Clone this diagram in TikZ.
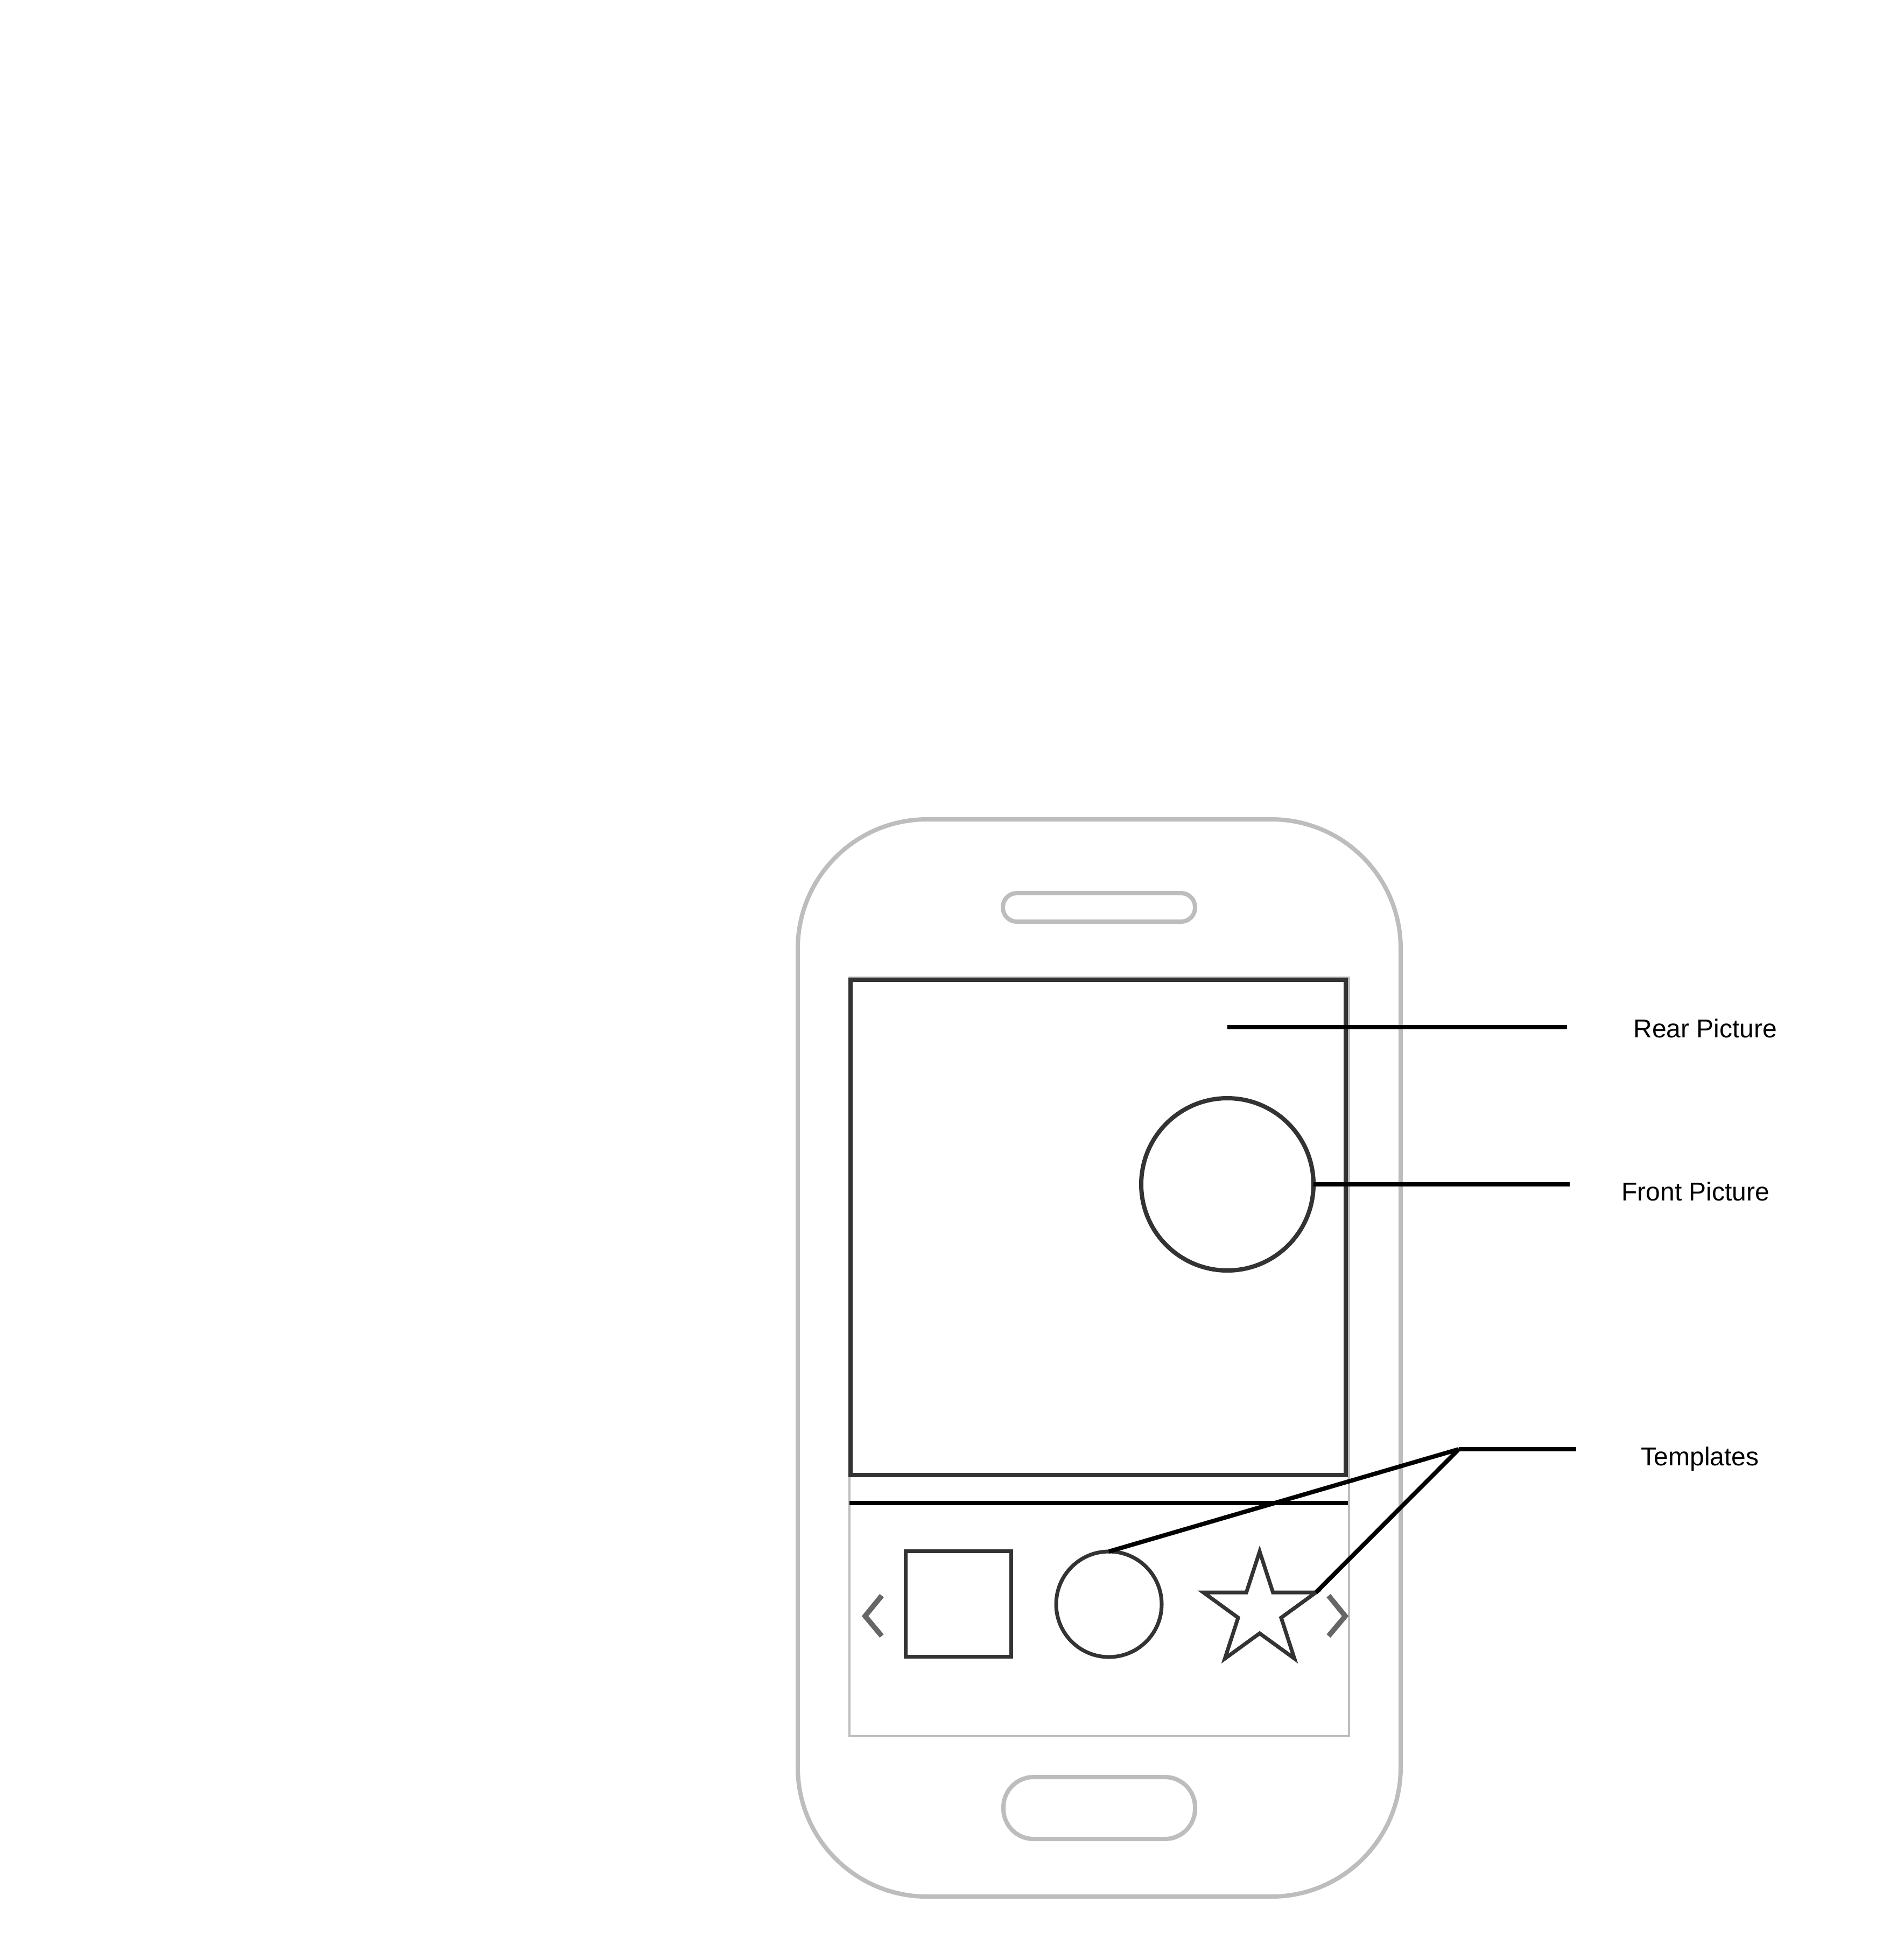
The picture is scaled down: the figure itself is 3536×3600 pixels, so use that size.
\documentclass[tikz,border=0pt]{standalone}
\usepackage{fontspec}
\setmainfont{Liberation Sans}
\usetikzlibrary{shapes.geometric}

\definecolor{phonegray}{HTML}{BDBDBD}
\definecolor{shapedark}{HTML}{333333}
\definecolor{chevgray}{HTML}{666666}

\begin{document}
\begin{tikzpicture}[x=0.25pt,y=-0.25pt,
  phone/.style={draw=phonegray,line width=2pt},
  frame/.style={draw=shapedark,line width=2pt,inner sep=0pt,outer sep=0pt},
  tmpl/.style={draw=shapedark,line width=1.75pt,inner sep=0pt,outer sep=0pt},
  lead/.style={draw=black,line width=2pt},
  chev/.style={draw=chevgray,line width=2.4pt},
  note/.style={font=\fontsize{12}{14}\selectfont,anchor=base,inner sep=0pt}]
  \useasboundingbox (0,0) rectangle (3536,3600);

  \draw[phone,rounded corners=60pt] (1482,1522) rectangle (2602,3523);
  \draw[phone,rounded corners=6.5pt] (1863,1659) rectangle (2220,1712);
  \draw[phone,rounded corners=14pt] (1864,3301) rectangle (2220,3416);
  \draw[phone,line width=1pt] (1578,1816) rectangle (2506,3225);

  \node[frame,rectangle,minimum size=230pt] (rear) at (2040,2280) {};
  \node[frame,circle,minimum size=80pt] (front) at (2280,2200) {};
  \draw[lead] (1578,2792) -- (2504,2792);

  \node[tmpl,rectangle,minimum size=49pt] (tsquare) at (1780,2979) {};
  \node[tmpl,circle,minimum size=49pt] (tcircle) at (2060,2980) {};
  \node[tmpl,star,star points=5,star point ratio=2.618,minimum size=55pt] (tstar) at (2340,2992) {};
  \draw[chev] (1638,2964) -- (1607,3002) -- (1638,3039);
  \draw[chev] (2468,2964) -- (2499,3002) -- (2468,3039);

  \coordinate (rearpt) at (2280,1908);
  \coordinate (rearend) at (2911,1908);
  \coordinate (frontend) at (2916,2200);
  \coordinate (tjoin) at (2710,2692);
  \coordinate (tend) at (2928,2692);

  \node[note] (rearlbl) at (3168,1927) {Rear Picture};
  \node[note] (frontlbl) at (3150,2230) {Front Picture};
  \node[note] (tmpllbl) at (3158,2722) {Templates};

  \path[lead]
    (rearpt) edge (rearend)
    (front.east) edge (frontend)
    (tjoin) edge (tend)
            edge (tcircle.north)
            edge (tstar.outer point 5);
\end{tikzpicture}
\end{document}
